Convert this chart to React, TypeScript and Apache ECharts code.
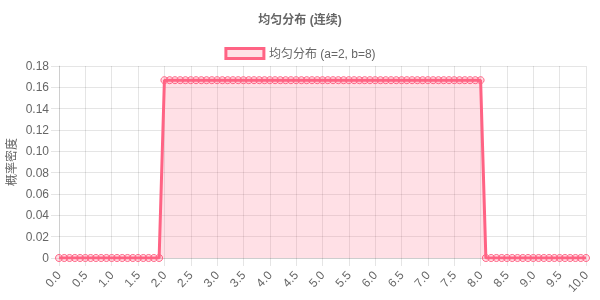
import React, { useEffect, useRef } from "react";
import * as echarts from "echarts";

const xLabels: string[] = [
  "0.0","0.1","0.2","0.3","0.4","0.5","0.6","0.7","0.8","0.9",
  "1.0","1.1","1.2","1.3","1.4","1.5","1.6","1.7","1.8","1.9",
  "2.0","2.1","2.2","2.3","2.4","2.5","2.6","2.7","2.8","2.9",
  "3.0","3.1","3.2","3.3","3.4","3.5","3.6","3.7","3.8","3.9",
  "4.0","4.1","4.2","4.3","4.4","4.5","4.6","4.7","4.8","4.9",
  "5.0","5.1","5.2","5.3","5.4","5.5","5.6","5.7","5.8","5.9",
  "6.0","6.1","6.2","6.3","6.4","6.5","6.6","6.7","6.8","6.9",
  "7.0","7.1","7.2","7.3","7.4","7.5","7.6","7.7","7.8","7.9",
  "8.0","8.1","8.2","8.3","8.4","8.5","8.6","8.7","8.8","8.9",
  "9.0","9.1","9.2","9.3","9.4","9.5","9.6","9.7","9.8","9.9",
  "10.0",
];

const density: number[] = [
  0,0,0,0,0,0,0,0,0,0,
  0,0,0,0,0,0,0,0,0,0,
  0.1667,0.1667,0.1667,0.1667,0.1667,0.1667,0.1667,0.1667,0.1667,0.1667,
  0.1667,0.1667,0.1667,0.1667,0.1667,0.1667,0.1667,0.1667,0.1667,0.1667,
  0.1667,0.1667,0.1667,0.1667,0.1667,0.1667,0.1667,0.1667,0.1667,0.1667,
  0.1667,0.1667,0.1667,0.1667,0.1667,0.1667,0.1667,0.1667,0.1667,0.1667,
  0.1667,0.1667,0.1667,0.1667,0.1667,0.1667,0.1667,0.1667,0.1667,0.1667,
  0.1667,0.1667,0.1667,0.1667,0.1667,0.1667,0.1667,0.1667,0.1667,0.1667,
  0.1667,0,0,0,0,0,0,0,0,0,
  0,0,0,0,0,0,0,0,0,0,
  0,
];

const titleText = "均匀分布 (连续)";
const seriesName = "均匀分布 (a=2, b=8)";
const yAxisName = "概率密度";

const FONT = "'Liberation Sans', Arial, 'Noto Sans CJK SC', sans-serif";
const GRID = "rgba(0,0,0,0.1)";
const TXT = "#666";

export default function App() {
  const ref = useRef<HTMLDivElement>(null);
  useEffect(() => {
    if (!ref.current) return;
    const chart = echarts.init(ref.current, undefined, { renderer: "svg" });
    chart.setOption({
      animation: false,
      textStyle: { fontFamily: FONT },
      title: {
        text: titleText,
        left: "center",
        top: 9,
        textStyle: { fontSize: 12, fontWeight: "bold", color: TXT, fontFamily: FONT },
      },
      legend: {
        top: 42,
        left: "center",
        icon: "rect",
        itemWidth: 38,
        itemHeight: 10,
        itemGap: 10,
        textStyle: { fontSize: 12, color: TXT, fontFamily: FONT },
        itemStyle: {
          color: "rgba(255,99,132,0.2)",
          borderColor: "rgb(255,99,132)",
          borderWidth: 3,
        },
        data: [seriesName],
      },
      grid: {
        left: 59,
        right: 14,
        top: 66,
        bottom: 42,
        containLabel: false,
        outerBoundsMode: "none",
      },
      xAxis: {
        type: "category",
        data: xLabels,
        boundaryGap: false,
        axisLine: { show: true, lineStyle: { color: GRID } },
        axisTick: { show: true, interval: 4, length: 8, lineStyle: { color: GRID } },
        splitLine: { show: true, interval: 4, lineStyle: { color: GRID } },
        axisLabel: {
          interval: 4,
          rotate: 47,
          margin: 15,
          fontSize: 12,
          color: TXT,
          fontFamily: FONT,
        },
      },
      yAxis: {
        type: "value",
        min: 0,
        max: 0.18,
        interval: 0.02,
        name: yAxisName,
        nameLocation: "middle",
        nameRotate: 90,
        nameGap: 41,
        nameMoveOverlap: false,
        nameTextStyle: { fontSize: 12, color: TXT, fontFamily: FONT },
        axisLine: { show: true, lineStyle: { color: GRID } },
        axisTick: { show: true, length: 8, lineStyle: { color: GRID } },
        splitLine: { show: true, lineStyle: { color: GRID } },
        axisLabel: {
          fontSize: 12,
          color: TXT,
          margin: 10,
          fontFamily: FONT,
          formatter: (v: number) => (v === 0 ? "0" : v.toFixed(2)),
        },
      },
      series: [
        {
          name: seriesName,
          type: "line",
          data: density,
          symbol: "circle",
          symbolSize: 7,
          showAllSymbol: true,
          itemStyle: {
            color: "rgba(255,99,132,0.2)",
            borderColor: "rgb(255,99,132)",
            borderWidth: 1,
          },
          lineStyle: { color: "rgb(255,99,132)", width: 3 },
          areaStyle: { color: "rgba(255,99,132,0.2)", opacity: 1 },
        },
      ],
    });
    return () => chart.dispose();
  }, []);
  return (
    <div
      ref={ref}
      style={{ position: "fixed", left: 0, top: 0, width: 600, height: 300 }}
    />
  );
}
